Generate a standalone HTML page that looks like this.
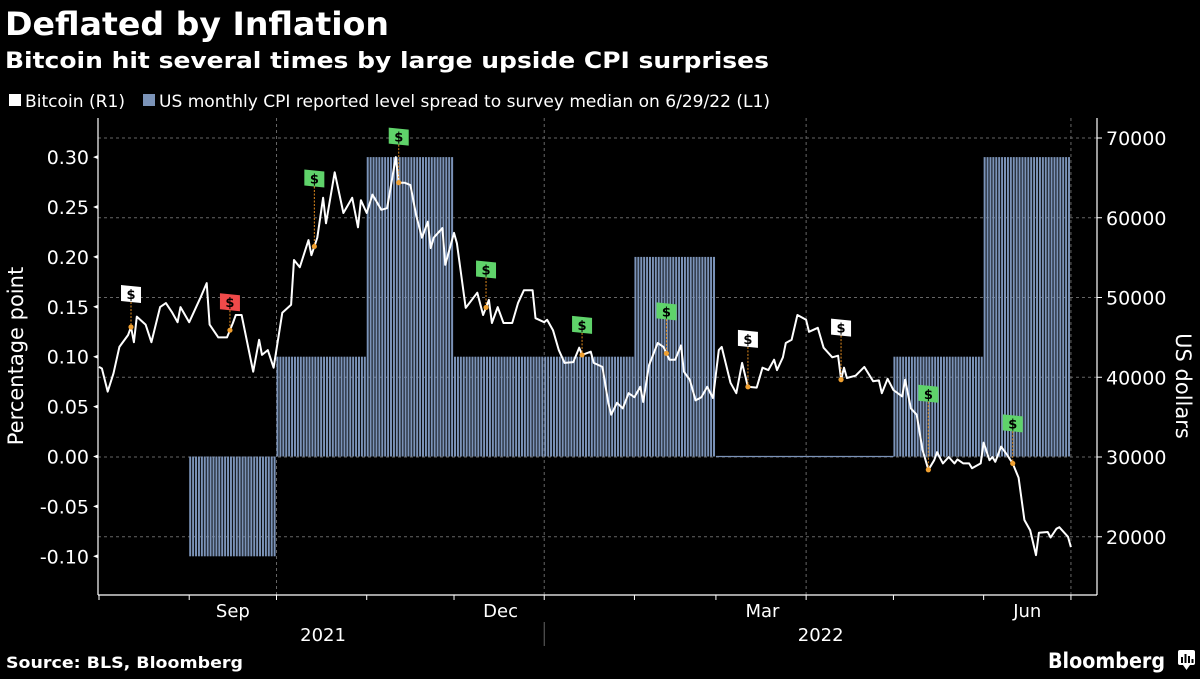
<!DOCTYPE html>
<html><head><meta charset="utf-8">
<style>
html,body{margin:0;padding:0;background:#000;}
body{width:1200px;height:675px;overflow:hidden;font-family:"DejaVu Sans","Liberation Sans",sans-serif;color:#fff;}
svg text{font-family:"DejaVu Sans","Liberation Sans",sans-serif;}
</style></head>
<body>
<svg id="chart" width="1200" height="675" viewBox="0 0 1200 675" xmlns="http://www.w3.org/2000/svg">
<rect x="0" y="0" width="1200" height="675" fill="#000"/>
<text x="5" y="35" font-size="32" font-weight="bold" fill="#fff" textLength="384" lengthAdjust="spacingAndGlyphs">Deflated by Inflation</text>
<text x="5" y="68" font-size="22" font-weight="bold" fill="#fff" textLength="764" lengthAdjust="spacingAndGlyphs">Bitcoin hit several times by large upside CPI surprises</text>
<g>
<g><rect x="9" y="94" width="12" height="12" fill="#fff"/><text x="25" y="107" font-size="17" fill="#fff" textLength="100" lengthAdjust="spacingAndGlyphs">Bitcoin (R1)</text></g>
<g><rect x="143" y="94" width="12" height="12" fill="#7b93b8"/><text x="159" y="107" font-size="17" fill="#fff" textLength="611" lengthAdjust="spacingAndGlyphs">US monthly CPI reported level spread to survey median on 6/29/22 (L1)</text></g>
</g>
<g id="grid"></g>
<g id="bars"></g>
<g id="line"></g>
<g id="flags"></g>
<g id="axes"></g>
<text transform="translate(23,356) rotate(-90)" text-anchor="middle" font-size="21" fill="#fff">Percentage point</text>
<text transform="translate(1176,386) rotate(90)" text-anchor="middle" font-size="21" fill="#fff">US dollars</text>
<text x="6" y="668" font-size="16" font-weight="bold" fill="#fff" textLength="237" lengthAdjust="spacingAndGlyphs">Source: BLS, Bloomberg</text>
<g>
<text x="1048" y="668" font-size="21" font-weight="bold" fill="#fff" textLength="117" lengthAdjust="spacingAndGlyphs">Bloomberg</text>
<rect x="1178" y="650" width="17" height="15" rx="2" fill="#fff"/>
<path d="M1183,665 L1186.5,670 L1190,665Z" fill="#fff"/>
<rect x="1181" y="657" width="2" height="6" fill="#000"/><rect x="1184.5" y="654" width="2" height="9" fill="#000"/><rect x="1188" y="656" width="2" height="7" fill="#000"/><rect x="1191.5" y="659" width="2" height="4" fill="#000"/>
</g>
</svg>
<script>
// ---- data ----
const cpiMonthStart = [31, 61, 92, 122, 153, 184, 212, 243, 273, 304];
const cpiMonthEnd   = [61, 92, 122, 153, 184, 212, 243, 273, 304, 334];
const cpiSpread     = [-0.1, 0.1, 0.3, 0.1, 0.1, 0.2, 0.0, 0.0, 0.1, 0.3];
const btcDays = [0,1,3,5,7,10,11,12,13,16,18,21,23,25,27,28,31,35,37,38,41,44,46,47,49,53,55,56,58,60,63,66,67,69,72,73,75,77,78,81,84,87,89,90,92,94,97,99,102,103,105,107,109,111,113,114,115,118,119,122,123,126,130,132,134,135,137,139,142,144,146,149,150,153,154,156,158,160,163,165,166,169,170,173,175,176,178,180,182,184,186,187,189,192,194,196,198,200,201,203,205,207,209,211,213,214,217,219,221,223,226,228,230,232,233,235,236,238,240,243,244,247,249,252,254,255,256,257,260,263,266,268,269,271,273,276,277,279,281,283,285,287,288,290,292,294,295,297,299,300,303,304,306,307,308,310,312,314,316,318,320,322,323,326,327,329,330,333,334];
const btcPrice = [41.3,41.1,38.2,40.5,43.8,45.3,46.3,44.4,47.6,46.6,44.4,48.8,49.3,48.2,46.9,48.8,46.9,50.1,51.8,46.6,45.0,45.0,46.8,47.8,47.8,40.7,44.7,42.8,43.4,41.2,48.1,49.1,54.7,53.8,57.2,55.3,57.5,62.5,59.3,65.7,60.6,62.5,58.8,62.2,60.6,62.9,61.0,61.2,67.6,64.4,64.4,64.1,60.3,57.5,59.5,56.2,57.5,58.7,54.1,58.1,56.8,48.7,50.6,47.8,49.7,46.8,48.8,46.8,46.8,49.3,50.9,50.9,47.4,46.9,47.2,45.9,43.4,41.8,41.9,43.7,42.8,43.2,41.8,41.3,36.8,35.3,36.8,36.1,38.0,37.5,38.8,36.9,41.5,44.3,43.8,42.2,42.2,44.0,40.7,39.7,37.1,37.5,38.8,37.4,43.4,43.8,39.3,38.0,41.8,38.8,38.7,41.2,40.9,42.2,40.9,42.5,44.3,44.7,47.8,47.2,45.7,46.2,43.7,42.5,42.7,39.7,41.2,39.9,40.2,41.3,39.5,39.6,38.0,39.8,38.4,37.6,39.7,36.1,35.3,30.9,28.4,29.6,30.6,29.2,30.0,29.2,29.7,29.2,29.2,28.6,29.2,31.8,29.6,30.0,29.4,31.3,30.3,29.2,27.4,22.1,20.8,17.7,20.5,20.6,19.9,21.0,21.2,20.0,18.7];
const flagDays   = [11, 45, 74, 103, 133, 166, 195, 223, 255, 285, 314];
const flagColors = ['white','red','green','green','green','green','green','white','white','green','green'];
const flagStem   = [25, 20, 60, 38, 30, 22, 34, 40, 44, 68, 32];
const leftTicks  = [-0.10,-0.05,0.00,0.05,0.10,0.15,0.20,0.25,0.30];
const leftLabels = ['-0.10','-0.05','0.00','0.05','0.10','0.15','0.20','0.25','0.30'];
const rightTicks = [20000,30000,40000,50000,60000,70000];
const rightLabels= ['20000','30000','40000','50000','60000','70000'];
const monthBounds = [0,31,61,92,122,153,184,212,243,273,304,334];
const monthLabelDays = [46, 138, 228, 319];
const monthLabels = ['Sep','Dec','Mar','Jun'];
const quarterDays = [61,153,243,334];
const yearLabels = ['2021','2022'];
const yearLabelDays = [77, 248];

// ---- scales ----
const X0=99, PXD=2.91;
const xS = d => X0 + d*PXD;
const yL = v => 456.5 - v*998;
const yR = v => 457 - (v-30000)*0.007975;
const NS='http://www.w3.org/2000/svg';
function mk(tag, attrs, parent){const e=document.createElementNS(NS,tag);for(const k in attrs)e.setAttribute(k,attrs[k]);parent.appendChild(e);return e;}

const grid=document.getElementById('grid');
rightTicks.forEach(v=>{
  const l=mk('line',{x1:98,x2:1097,y1:yR(v),y2:yR(v),stroke:'#666','stroke-width':1,'stroke-dasharray':'3,3'},grid);
  
  
});
quarterDays.forEach(d=>{
  const l=mk('line',{x1:xS(d),x2:xS(d),y1:118,y2:595,stroke:'#666','stroke-width':1,'stroke-dasharray':'3,3'},grid);
  
  
});

const bars=document.getElementById('bars');
cpiSpread.forEach((v,i)=>{
  if(v===0){
    const l=mk('line',{x1:xS(cpiMonthStart[i]),x2:xS(cpiMonthEnd[i]),y1:yL(0),y2:yL(0),stroke:'#7b93b8','stroke-width':1.2},bars);
    
    
    return;
  }
  for(let d=cpiMonthStart[i]; d<cpiMonthEnd[i]; d++){
    const y1=yL(Math.max(v,0)), y2=yL(Math.min(v,0));
    const r=mk('rect',{x:xS(d),y:y1,width:2,height:y2-y1,fill:'#7b93b8'},bars);
    
    
  }
});

const lg=document.getElementById('line');
const pts=btcDays.map((d,i)=>xS(d).toFixed(1)+','+yR(btcPrice[i]*1000).toFixed(1)).join(' ');
const pl=mk('polyline',{points:pts,fill:'none',stroke:'#fff','stroke-width':2,'stroke-linejoin':'round'},lg);



function priceAt(d){
  for(let i=0;i<btcDays.length-1;i++){
    if(d>=btcDays[i]&&d<=btcDays[i+1]){const t=(d-btcDays[i])/((btcDays[i+1]-btcDays[i])||1);return btcPrice[i]+t*(btcPrice[i+1]-btcPrice[i]);}
  }
  return btcPrice[btcPrice.length-1];
}
const fl=document.getElementById('flags');
const colMap={white:'#ffffff',red:'#f04a4a',green:'#5fd36a'};
flagDays.forEach((d,i)=>{
  const x=xS(d), y=yR(priceAt(d)*1000);
  const g=mk('g',{},fl);
  
  
  const top=y-flagStem[i];
  mk('line',{x1:x,x2:x,y1:top,y2:y,stroke:'#e08a1e','stroke-width':1,'stroke-dasharray':'2,1.5'},g);
  mk('circle',{cx:x,cy:y,r:2.6,fill:'#f0a030'},g);
  mk('path',{d:`M${x-10},${top-17} L${x+10},${top-15} L${x+10},${top+1} L${x-10},${top-1}Z`,fill:colMap[flagColors[i]]},g);
  const t=mk('text',{x:x,y:top-3,'text-anchor':'middle','font-size':13,'font-weight':'bold',fill:'#000'},g);
  t.textContent='$';
});

const ax=document.getElementById('axes');
mk('line',{x1:98,x2:98,y1:118,y2:595,stroke:'#fff','stroke-width':1.2},ax);
mk('line',{x1:1097,x2:1097,y1:118,y2:595,stroke:'#fff','stroke-width':1.2},ax);
mk('line',{x1:98,x2:1097,y1:595,y2:595,stroke:'#fff','stroke-width':1.2},ax);
leftTicks.forEach((v,i)=>{
  mk('path',{d:`M98,${yL(v)-2} L93,${yL(v)} L98,${yL(v)+2}Z`,fill:'#fff'},ax);
  const t=mk('text',{x:89,y:yL(v)+7,'text-anchor':'end','font-size':19,fill:'#fff'},ax);
  
  
  t.textContent=leftLabels[i];
});
rightTicks.forEach((v,i)=>{
  mk('line',{x1:1097,x2:1102,y1:yR(v),y2:yR(v),stroke:'#fff'},ax);
  const t=mk('text',{x:1106,y:yR(v)+7,'font-size':19,fill:'#fff'},ax);
  
  
  t.textContent=rightLabels[i];
});
monthBounds.forEach(d=>{mk('line',{x1:xS(d),x2:xS(d),y1:595,y2:600,stroke:'#fff'},ax);});
monthLabels.forEach((m,i)=>{
  const t=mk('text',{x:xS(monthLabelDays[i]),y:617,'text-anchor':'middle','font-size':18,fill:'#fff'},ax);
  
  
  t.textContent=m;
});
yearLabels.forEach((m,i)=>{
  const t=mk('text',{x:xS(yearLabelDays[i]),y:641,'text-anchor':'middle','font-size':18,fill:'#fff'},ax);
  
  
  t.textContent=m;
});
mk('line',{x1:xS(153),x2:xS(153),y1:622,y2:646,stroke:'#666'},ax);
</script>
</body></html>
